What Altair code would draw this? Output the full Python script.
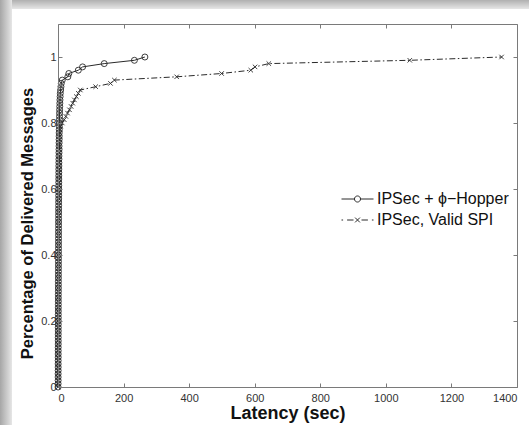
import altair as alt
import pandas as pd

# ---- data ----
series_names = ["IPSec + \u03d5\u2212Hopper", "IPSec, Valid SPI"]

levels = [0.00, 0.01, 0.02, 0.03, 0.04, 0.05, 0.06, 0.07, 0.08, 0.09,
          0.10, 0.11, 0.12, 0.13, 0.14, 0.15, 0.16, 0.17, 0.18, 0.19,
          0.20, 0.21, 0.22, 0.23, 0.24, 0.25, 0.26, 0.27, 0.28, 0.29,
          0.30, 0.31, 0.32, 0.33, 0.34, 0.35, 0.36, 0.37, 0.38, 0.39,
          0.40, 0.41, 0.42, 0.43, 0.44, 0.45, 0.46, 0.47, 0.48, 0.49,
          0.50, 0.51, 0.52, 0.53, 0.54, 0.55, 0.56, 0.57, 0.58, 0.59,
          0.60, 0.61, 0.62, 0.63, 0.64, 0.65, 0.66, 0.67, 0.68, 0.69,
          0.70, 0.71, 0.72, 0.73, 0.74, 0.75, 0.76, 0.77, 0.78, 0.79,
          0.80, 0.81, 0.82, 0.83, 0.84, 0.85, 0.86, 0.87, 0.88, 0.89,
          0.90, 0.91, 0.92, 0.93, 0.94, 0.95, 0.96, 0.97, 0.98, 0.99, 1.00]

hopper_latency = [0.3, 0.3, 0.4, 0.4, 0.4, 0.5, 0.5, 0.5, 0.5, 0.6,
                  0.6, 0.6, 0.6, 0.7, 0.7, 0.7, 0.7, 0.8, 0.8, 0.8,
                  0.8, 0.9, 0.9, 0.9, 0.9, 1.0, 1.0, 1.0, 1.0, 1.1,
                  1.1, 1.1, 1.1, 1.2, 1.2, 1.2, 1.3, 1.3, 1.3, 1.4,
                  1.4, 1.4, 1.5, 1.5, 1.5, 1.6, 1.6, 1.6, 1.7, 1.7,
                  1.7, 1.8, 1.8, 1.9, 1.9, 2.0, 2.0, 2.1, 2.1, 2.2,
                  2.2, 2.3, 2.3, 2.4, 2.4, 2.5, 2.5, 2.6, 2.7, 2.8,
                  2.9, 3.0, 3.1, 3.2, 3.3, 3.4, 3.5, 3.6, 3.8, 4.0,
                  4.2, 4.4, 4.6, 4.8, 5.0, 5.3, 5.6, 6.0, 6.5, 7.0,
                  8.0, 9.0, 10.0, 13.0, 30.0, 33.0, 62.0, 75.0, 141.0, 233.0, 265.0]

spi_latency = [0.2, 0.2, 0.3, 0.3, 0.3, 0.4, 0.4, 0.4, 0.5, 0.5,
               0.5, 0.6, 0.6, 0.6, 0.7, 0.7, 0.7, 0.8, 0.8, 0.8,
               0.9, 0.9, 0.9, 1.0, 1.0, 1.0, 1.1, 1.1, 1.1, 1.2,
               1.2, 1.2, 1.3, 1.3, 1.3, 1.4, 1.4, 1.4, 1.5, 1.5,
               1.5, 1.6, 1.6, 1.7, 1.7, 1.8, 1.8, 1.9, 1.9, 2.0,
               2.0, 2.1, 2.1, 2.2, 2.2, 2.3, 2.4, 2.5, 2.6, 2.7,
               2.8, 2.9, 3.0, 3.1, 3.2, 3.3, 3.4, 3.6, 3.8, 4.0,
               4.2, 4.4, 4.6, 4.8, 5.0, 5.3, 5.6, 6.0, 6.5, 8.0,
               13.0, 19.0, 24.0, 29.0, 35.0, 40.0, 45.0, 50.0, 56.0, 62.0,
               68.0, 115.0, 160.0, 172.0, 362.0, 499.0, 588.0, 601.0, 643.0, 1073.0, 1353.0]

x_ticks = [0, 200, 400, 600, 800, 1000, 1200, 1400]
y_ticks = [0, 0.2, 0.4, 0.6, 0.8, 1.0]

df = pd.DataFrame({
    "latency": hopper_latency + spi_latency,
    "pct": levels + levels,
    "series": [series_names[0]] * len(hopper_latency) + [series_names[1]] * len(spi_latency),
})

W, H = 459, 363
FONT = "Liberation Sans"
INK = "#2a2a2a"
BOX = "#7a7a7a"

xs = alt.Scale(domain=[0, 1400], nice=False, zero=False)
ys = alt.Scale(domain=[0, 1.1], nice=False, zero=False)

# main axes (labels, titles, left/bottom box edges)
ax_x_main = alt.Axis(values=x_ticks, format="d", tickSize=0, labelFontSize=11, labelFont=FONT,
                     labelColor="#333333", domainColor=BOX, title="Latency (sec)",
                     titleFont=FONT, titleFontSize=18, titleFontWeight="bold",
                     titleColor="#111111", titlePadding=1, labelPadding=5, grid=False,
                     zindex=1)
ax_y_main = alt.Axis(values=y_ticks, format="~g", tickSize=0, labelFontSize=11, labelFont=FONT,
                     labelColor="#333333", domainColor=BOX,
                     title="Percentage of Delivered Messages",
                     titleFont=FONT, titleFontSize=16.5, titleFontWeight="bold",
                     titleColor="#111111", titlePadding=5, labelPadding=2, grid=False,
                     titleY=199, titleAlign="center", titleAngle=270,
                     zindex=1)
# inward ticks at bottom / left
ax_x_in_bottom = alt.Axis(orient="top", offset=-H, values=x_ticks, labels=False, domain=False,
                          tickSize=4, tickColor=BOX, title=None, grid=False, zindex=1)
ax_y_in_left = alt.Axis(orient="right", offset=-W, values=y_ticks, labels=False, domain=False,
                        tickSize=4, tickColor=BOX, title=None, grid=False, zindex=1)
# top / right box edges with inward ticks
ax_x_top = alt.Axis(orient="bottom", offset=-H, values=x_ticks, labels=False, domain=True,
                    domainColor=BOX, tickSize=4, tickColor=BOX, title=None, grid=False, zindex=1)
ax_y_right = alt.Axis(orient="left", offset=-W, values=y_ticks, labels=False, domain=True,
                      domainColor=BOX, tickSize=4, tickColor=BOX, title=None, grid=False, zindex=1)

base = alt.Chart(df)

hop = base.transform_filter(alt.datum.series == series_names[0])
spi = base.transform_filter(alt.datum.series == series_names[1])

hop_line = hop.mark_line(color=INK, strokeWidth=1).encode(
    x=alt.X("latency:Q", scale=xs, axis=ax_x_main),
    y=alt.Y("pct:Q", scale=ys, axis=ax_y_main),
    order="pct:Q",
)
spi_line = spi.mark_line(color=INK, strokeWidth=1, strokeDash=[6, 2.5, 1.5, 2.5]).encode(
    x=alt.X("latency:Q", scale=xs, axis=ax_x_in_bottom),
    y=alt.Y("pct:Q", scale=ys, axis=ax_y_in_left),
    order="pct:Q",
)
hop_pts = hop.mark_point(shape="circle", size=36, filled=False, color=INK,
                         strokeWidth=0.9, opacity=1).encode(
    x=alt.X("latency:Q", scale=xs, axis=ax_x_top),
    y=alt.Y("pct:Q", scale=ys, axis=ax_y_right),
)
spi_pts = spi.mark_point(shape="M-1,-1L1,1M-1,1L1,-1", size=20, filled=False, color=INK,
                         strokeWidth=0.9, opacity=1).encode(
    x=alt.X("latency:Q", scale=xs, axis=None),
    y=alt.Y("pct:Q", scale=ys, axis=None),
)

hop_sym = "M-1,0L-0.19,0M0.19,0L1,0M0.19,0A0.19,0.19,0,1,1,-0.19,0A0.19,0.19,0,1,1,0.19,0"
spi_sym = ("M-1,0L-0.9,0M-0.65,0L-0.25,0M-0.15,-0.15L0.15,0.15M-0.15,0.15L0.15,-0.15"
           "M0.25,0L0.65,0M0.9,0L1,0")

legend_layer = base.transform_filter("false").mark_point(filled=False, color=INK, opacity=1).encode(
    shape=alt.Shape("series:N",
                    scale=alt.Scale(domain=series_names, range=[hop_sym, spi_sym]),
                    legend=alt.Legend(title=None, orient="none", legendX=283, legendY=165,
                                      symbolSize=1024, clipHeight=20, rowPadding=1,
                                      padding=0, labelOffset=3, labelFont=FONT,
                                      labelFontSize=16, labelColor="#111111",
                                      symbolStrokeColor=INK, symbolStrokeWidth=1,
                                      symbolFillColor="transparent", labelLimit=300)),
)

one = alt.Data(values=[{"k": 1}])
left_strip = alt.Chart(one).mark_rect(
    color=alt.Gradient(gradient="linear",
                       stops=[alt.GradientStop(color="#a6a6a6", offset=0),
                              alt.GradientStop(color="#e6e6e6", offset=1)],
                       x1=0, x2=1, y1=0, y2=0)
).encode(x=alt.value(-58), x2=alt.value(-46), y=alt.value(-24), y2=alt.value(401))
top_strip = alt.Chart(one).mark_rect(
    color=alt.Gradient(gradient="linear",
                       stops=[alt.GradientStop(color="#b0b0b0", offset=0),
                              alt.GradientStop(color="#e6e6e6", offset=1)],
                       x1=0, x2=0, y1=0, y2=1)
).encode(x=alt.value(-46), x2=alt.value(471), y=alt.value(-24), y2=alt.value(-15))

chart = alt.layer(
    left_strip, top_strip, hop_line, spi_line, hop_pts, spi_pts, legend_layer
).resolve_axis(
    x="independent", y="independent"
).properties(
    width=W, height=H,
    autosize=alt.AutoSizeParams(type="none"),
    padding={"left": 58, "top": 24, "right": 12, "bottom": 38},
    background="white",
).configure_view(stroke=None)

chart.save("out.html", embed_options={"renderer": "svg", "actions": False})
